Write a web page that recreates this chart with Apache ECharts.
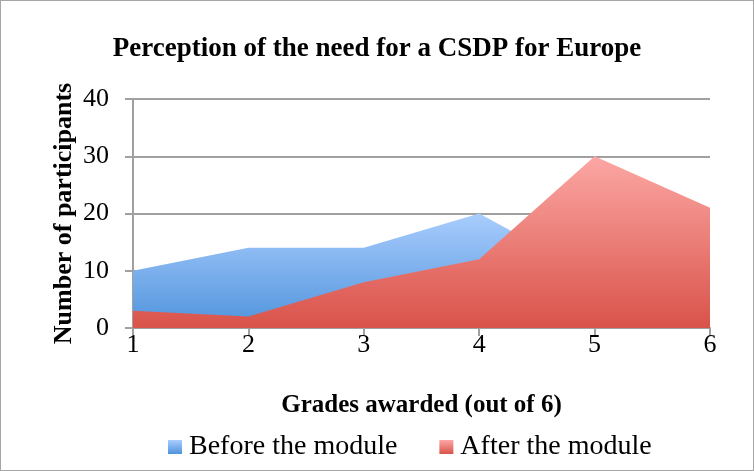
<!DOCTYPE html>
<html>
<head>
<meta charset="utf-8">
<script src="https://cdn.jsdelivr.net/npm/echarts@6/dist/echarts.min.js"></script>
<style>
  html, body { margin: 0; padding: 0; background: #fff; }
  #chart { width: 754px; height: 471px; box-sizing: border-box; border: 1px solid #a6a6a6; }
</style>
</head>
<body>
<div id="chart"></div>
<script>
// 数据
const grades = ['1', '2', '3', '4', '5', '6']
const beforeModule = [10, 14, 14, 20, 9, 4]
const afterModule = [3, 2, 8, 12, 30, 21]
const yTicks = [0, 10, 20, 30, 40]

const serif = '"Liberation Serif", serif'

function grad(top, bottom) {
  return {
    type: 'linear', x: 0, y: 0, x2: 0, y2: 1,
    colorStops: [{ offset: 0, color: top }, { offset: 1, color: bottom }]
  }
}

const myChart = echarts.init(document.getElementById('chart'))
const option = {
  animation: false,
  //标题
  title: {
    text: 'Perception of the need for a CSDP for Europe',
    left: 'center',
    top: 30,
    textStyle: { fontFamily: serif, fontSize: 27, fontWeight: 'bold', color: '#000' }
  },
  //图例
  legend: {
    bottom: 4,
    left: 162,
    itemWidth: 14,
    itemHeight: 14,
    itemGap: 42,
    icon: 'rect',
    textStyle: { fontFamily: serif, fontSize: 28, color: '#000', padding: [0, 0, 0, 2] },
    data: [
      { name: 'Before the module', itemStyle: { color: grad('#a9cdfd', '#4f93dc') } },
      { name: 'After the module', itemStyle: { color: grad('#fca7a4', '#d9534a') } }
    ]
  },
  grid: { left: 132, right: 43, top: 98, bottom: 142 },
  xAxis: {
    type: 'category',
    data: grades,
    boundaryGap: false,
    name: 'Grades awarded (out of 6)',
    nameLocation: 'middle',
    nameGap: 65,
    nameTextStyle: { fontFamily: serif, fontSize: 25, fontWeight: 'bold', color: '#000' },
    axisLine: { lineStyle: { color: '#a0a0a0', width: 2 } },
    axisTick: { show: true, length: 8, lineStyle: { color: '#a0a0a0', width: 2 } },
    axisLabel: { fontFamily: serif, fontSize: 26, color: '#000', margin: 4 }
  },
  yAxis: {
    type: 'value',
    min: 0,
    max: 40,
    interval: 10,
    name: 'Number of participants',
    nameLocation: 'middle',
    nameGap: 56,
    nameMoveOverlap: false,
    nameTextStyle: { fontFamily: serif, fontSize: 26, fontWeight: 'bold', color: '#000' },
    axisLine: { show: true, lineStyle: { color: '#a0a0a0', width: 2 } },
    axisTick: { show: true, length: 8, lineStyle: { color: '#a0a0a0', width: 2 } },
    axisLabel: {
      fontFamily: serif, fontSize: 26, color: '#000', margin: 24,
      formatter: v => yTicks.includes(v) ? String(v) : ''
    },
    splitLine: { lineStyle: { color: '#a0a0a0', width: 2 } }
  },
  series: [
    {
      name: 'Before the module',
      type: 'line',
      data: beforeModule,
      symbol: 'none',
      lineStyle: { width: 0 },
      itemStyle: { color: '#7fb2ee' },
      areaStyle: { color: grad('#a9cdfd', '#4f93dc'), opacity: 1 }
    },
    {
      name: 'After the module',
      type: 'line',
      data: afterModule,
      symbol: 'none',
      lineStyle: { width: 0 },
      itemStyle: { color: '#ec7b73' },
      areaStyle: { color: grad('#fca7a4', '#d9534a'), opacity: 1 }
    }
  ]
}
option && myChart.setOption(option)
</script>
</body>
</html>
